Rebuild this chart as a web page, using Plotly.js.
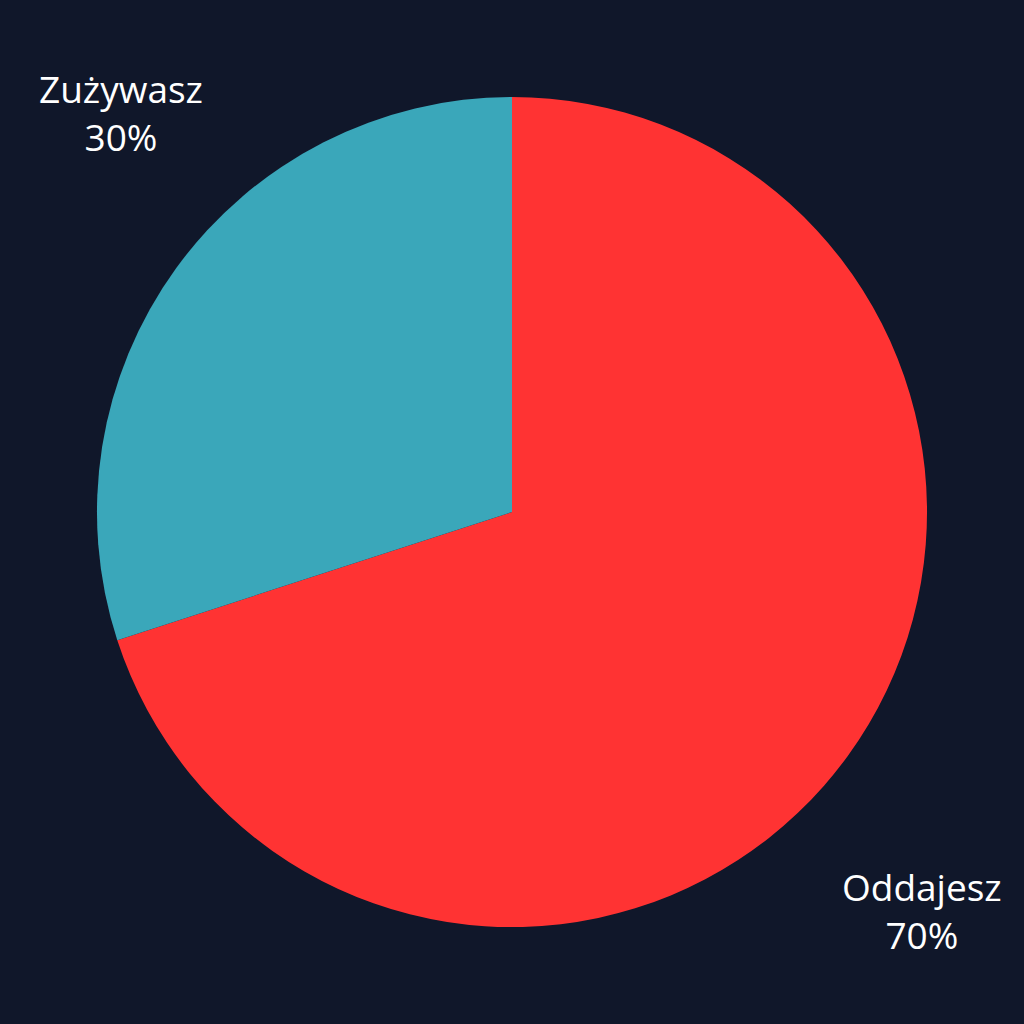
<!DOCTYPE html>
<html>
<head>
<meta charset="utf-8">
<script src="https://cdn.plot.ly/plotly-3.0.1.min.js"></script>
<style>
  html, body { margin: 0; padding: 0; background: #10172a; }
  #chart { width: 1024px; height: 1024px; }
</style>
</head>
<body>
<div id="chart"></div>
<script>
const labels = ['Oddajesz', 'Zużywasz'];
const values = [70, 30];
const colors = ['#ff3333', '#3aa7ba'];

const total = values.reduce((a, b) => a + b, 0);

// labels sit in the corner the slice's middle points to
// (slices run clockwise from the top)
function labelAnnotations() {
  let annotations = [];
  let start = 0;
  for (let i = 0; i < values.length; i++) {
    let mid = (start + values[i] / 2) / total * 2 * Math.PI;
    start += values[i];
    let dx = Math.sin(mid);
    let dy = Math.cos(mid);
    annotations.push({
      text: labels[i] + '<br>' + Math.round(values[i] / total * 100) + '%',
      xref: 'paper',
      yref: 'paper',
      x: dx < 0 ? 0.118 : 0.9,
      y: dy > 0 ? 0.89 : 0.111,
      xanchor: 'center',
      yanchor: 'middle',
      showarrow: false,
      align: 'center',
      font: { family: 'Open Sans', size: 37, color: '#ffffff' }
    });
  }
  return annotations;
}

let trace = {
  type: 'pie',
  labels: labels,
  values: values,
  sort: false,
  direction: 'clockwise',
  rotation: 0,
  textinfo: 'none',
  hoverinfo: 'none',
  marker: { colors: colors, line: { width: 0 } },
  domain: { x: [0.0947, 0.9053], y: [0.0947, 0.9053] }
};

let layout = {
  width: 1024,
  height: 1024,
  paper_bgcolor: '#10172a',
  plot_bgcolor: '#10172a',
  showlegend: false,
  margin: { l: 0, r: 0, t: 0, b: 0, pad: 0 },
  annotations: labelAnnotations()
};

Plotly.newPlot('chart', [trace], layout, { displayModeBar: false, staticPlot: true });
</script>
</body>
</html>
